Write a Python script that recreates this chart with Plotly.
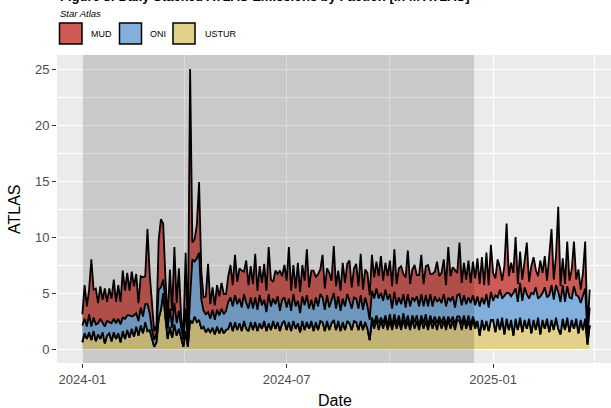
import pandas as pd
import plotly.graph_objects as go

# ---------------- data ----------------
start_date = "2024-01-01"
n_points = 227          # every 2nd day, 2024-01-01 .. 2025-03-28
dates = pd.date_range(start_date, periods=n_points, freq="2D")

factions = ["MUD", "ONI", "USTUR"]
colors = {"MUD": "#cd5b55", "ONI": "#82afdc", "USTUR": "#e1d18b", "other": "#7f7f7f"}

ustur = [
    0.6,1.4,0.9,1.5,0.8,1.6,0.7,1.3,0.9,1.5,0.5,1.2,1.4,0.7,1.5,0.9,
    1.4,0.6,1.6,0.9,1.7,1.0,1.8,1.1,2.0,1.2,2.1,1.4,2.4,1.6,
    1.7,0.8,0.2,0.6,2.7,3.5,5.0,2.8,0.9,2.0,1.0,2.2,1.2,1.8,1.0,0.2,
    1.6,0.2,2.6,2.3,2.9,2.4,2.6,1.8,2.0,1.5,1.8,1.5,1.9,1.3,2.0,
    1.4,1.9,1.4,1.7,1.8,2.4,1.6,2.4,1.7,2.3,1.6,2.5,1.8,1.6,2.4,
    1.7,2.4,1.6,2.3,1.8,2.5,1.6,2.3,1.7,2.5,1.8,2.4,1.6,2.3,2.5,
    1.7,2.4,1.6,2.5,1.8,2.3,1.5,2.5,1.7,2.4,1.8,2.5,1.6,2.4,1.7,2.5,
    2.4,1.6,2.5,1.7,2.3,2.6,1.7,2.5,1.6,2.4,1.7,2.5,2.3,1.7,2.5,
    2.4,1.7,2.5,1.7,2.4,1.8,0.8,2.5,1.8,2.6,1.7,2.5,1.8,2.6,1.7,
    2.5,1.7,2.6,1.8,2.5,1.7,2.6,1.8,2.5,1.7,2.6,1.8,2.5,1.7,2.6,1.8,
    2.5,1.7,2.6,1.8,2.5,1.7,2.6,1.8,2.5,1.7,2.6,1.8,2.5,1.7,2.6,
    2.5,1.7,2.6,1.8,2.5,1.7,2.6,1.8,2.5,1.2,2.6,1.7,2.5,1.6,2.6,
    2.6,1.5,2.7,1.7,2.8,1.3,2.7,1.7,2.6,1.2,2.7,1.7,2.8,1.5,2.6,1.8,
    2.7,1.4,2.6,1.7,2.8,1.3,2.6,1.8,2.7,1.5,2.6,1.7,2.8,1.8,
    1.3,2.7,1.7,2.8,1.5,2.6,1.8,2.7,1.4,2.6,1.7,2.7,0.4,2.1,
]

oni = [
    1.5,1.3,1.1,1.6,1.2,1.2,1.5,1.0,1.8,0.9,1.5,1.3,1.0,1.6,1.2,1.4,
    1.3,1.6,1.2,1.8,1.3,2.0,1.1,1.9,1.2,1.3,1.6,1.5,1.6,2.4,
    1.5,0.9,0.6,0.8,2.6,2.0,1.2,1.6,0.9,1.6,0.9,1.9,1.1,1.6,0.9,0.6,
    2.0,0.5,2.0,5.7,4.9,5.7,6.0,2.6,1.4,1.6,1.5,1.2,1.6,1.3,1.5,
    1.6,1.7,1.7,1.7,2.4,2.2,2.2,2.4,2.3,2.2,2.1,2.4,2.3,2.0,2.2,
    1.9,2.2,1.9,2.5,2.1,1.9,1.7,2.6,2.1,2.0,2.2,2.3,1.8,2.1,2.1,
    2.0,2.1,1.8,2.4,2.0,2.0,1.7,2.2,2.2,2.4,1.8,1.9,1.9,2.2,2.1,2.4,
    2.2,1.9,2.3,2.0,2.1,2.4,1.9,2.2,1.8,2.1,2.1,2.4,2.0,1.9,2.1,
    2.1,1.9,2.3,1.8,2.2,2.0,1.8,2.4,2.2,2.4,2.2,2.2,2.0,2.3,2.3,
    1.8,1.6,2.0,1.7,1.6,2.0,1.7,1.5,1.9,1.8,1.6,1.9,1.7,1.8,1.9,1.5,
    1.7,1.8,1.9,1.5,1.8,1.9,1.6,1.8,2.0,1.6,1.7,1.9,1.8,1.5,1.9,
    2.0,1.7,1.8,1.9,1.6,2.0,1.9,1.7,2.2,2.6,2.0,2.3,2.4,2.1,2.5,
    1.7,3.3,1.9,3.6,1.7,3.5,2.3,3.3,2.1,3.8,2.7,2.5,3.1,2.8,2.9,3.1,
    1.8,3.6,2.3,3.8,1.7,3.4,2.4,3.7,1.9,3.3,3.1,2.7,2.9,3.3,
    2.9,3.0,2.5,2.8,3.1,1.9,3.8,2.1,3.3,1.5,3.1,2.7,0.8,1.6,
]

mud = [
    1.0,3.0,1.8,2.2,6.0,2.5,3.2,1.8,2.9,2.0,3.4,1.7,3.0,2.2,3.5,1.9,
    3.0,2.0,4.2,2.5,3.8,2.2,4.0,2.6,3.5,1.6,2.8,3.5,2.5,6.7,
    3.5,2.2,0.8,0.7,4.5,6.1,5.0,2.0,0.8,3.5,1.5,5.0,1.8,3.8,1.0,0.4,
    5.0,0.6,20.4,1.5,2.0,3.0,6.3,2.5,1.2,1.6,4.3,1.3,2.0,1.3,2.2,
    1.7,2.3,1.8,1.5,2.3,2.9,1.9,3.6,2.0,2.7,3.3,2.0,3.8,2.1,2.8,
    2.2,3.9,1.7,2.6,2.0,3.2,1.9,4.2,2.4,1.5,3.0,2.0,3.6,2.1,2.9,
    2.4,4.6,1.8,2.6,1.6,3.4,1.9,2.8,2.2,4.1,1.9,2.6,3.5,1.8,2.9,2.2,
    3.8,1.9,2.4,3.1,1.7,4.2,2.0,2.3,1.8,3.2,2.1,2.7,3.6,1.9,2.6,
    3.1,2.0,3.7,1.8,2.5,3.0,2.2,3.2,1.9,2.4,2.0,3.3,1.8,2.4,2.1,
    3.0,2.0,3.8,1.9,2.6,3.4,1.8,2.7,3.9,2.0,2.5,3.2,1.9,2.8,3.5,2.0,
    2.6,3.7,1.8,2.9,2.2,3.6,2.0,2.7,3.1,1.9,4.5,2.2,2.6,3.3,2.0,
    4.6,2.0,2.9,2.2,3.3,1.8,3.0,2.4,3.4,2.0,3.6,1.7,3.7,2.0,4.2,
    2.5,1.5,3.4,2.0,1.6,2.6,6.2,1.5,3.0,1.8,4.6,1.6,2.8,1.9,2.2,4.6,
    1.5,2.4,3.3,1.6,2.0,3.2,1.8,2.8,1.5,3.5,5.0,1.8,2.6,7.6,
    1.4,2.4,1.6,4.0,1.5,2.6,4.0,1.4,2.4,1.2,2.0,4.2,0.6,1.6,
]

# small unlabelled (grey) layer between USTUR and ONI, autumn 2024
other_start = 129
other_vals = [
    0.3,0.5,0.4,0.6,0.3,0.5,0.4,0.4,0.6,0.3,0.5,0.4,0.5,0.3,0.6,0.4,
    0.5,0.3,0.4,0.6,0.5,0.3,0.4,0.5,0.6,0.3,0.4,0.5,0.4,0.6,0.3,0.5,
    0.4,0.5,0.3,0.6,0.4,0.5,0.3,0.4,0.5,0.4,0.3,0.5,0.4,0.3,0.4,
]
other = [0.0] * other_start + other_vals
other = other + [0.0] * (n_points - len(other))

shade_start = "2024-01-01"
shade_end = "2024-12-15"

y_ticks = [0, 5, 10, 15, 20, 25]
x_range = ["2023-12-09 09:36", "2025-04-16 00:00"]
y_range = [-1.25, 26.25]

title_text = "Figure 8: Daily Stacked ATLAS Emissions by Faction [in M ATLAS]"
subtitle_text = "Star Atlas"

# ---------------- figure ----------------
W, H = 611, 408
ML, MR, MT, MB = 57, 0, 55, 45
PW, PH = W - ML - MR, H - MT - MB


def px(x):
    return (x - ML) / PW


def py(y):
    return 1 + (MT - y) / PH


fig = go.Figure()
layers = [("USTUR", ustur), ("other", other), ("ONI", oni), ("MUD", mud)]
for name, vals in layers:
    fig.add_trace(go.Scatter(
        x=dates, y=vals, name=name, mode="lines", stackgroup="one",
        line=dict(color="black", width=1.8, shape="linear"),
        fillcolor=colors[name], showlegend=False,
    ))

shapes = [dict(type="rect", xref="x", yref="paper", x0=shade_start, x1=shade_end,
               y0=0, y1=1, fillcolor="rgba(0,0,0,0.14)", line=dict(width=0), layer="above")]

annotations = [
    dict(text="<b>" + title_text + "</b>", x=px(58), y=py(-4), xref="paper", yref="paper",
         xanchor="left", yanchor="middle", showarrow=False,
         font=dict(family="Liberation Sans, Arial", size=13, color="black")),
    dict(text="<i>" + subtitle_text + "</i>", x=px(57.5), y=py(14), xref="paper", yref="paper",
         xanchor="left", yanchor="middle", showarrow=False,
         font=dict(family="Liberation Sans, Arial", size=9.5, color="black")),
    dict(text="ATLAS", x=px(14), y=py(209), xref="paper", yref="paper", textangle=-90,
         xanchor="center", yanchor="middle", showarrow=False,
         font=dict(family="Liberation Sans, Arial", size=16, color="black")),
    dict(text="Date", x=px(335), y=py(400), xref="paper", yref="paper",
         xanchor="center", yanchor="middle", showarrow=False,
         font=dict(family="Liberation Sans, Arial", size=16, color="black")),
]

legend_boxes = {"MUD": (59.5, 82), "ONI": (119.5, 141.5), "USTUR": (173, 195)}
legend_text_x = {"MUD": 89, "ONI": 148, "USTUR": 203}
for f in factions:
    x0, x1 = legend_boxes[f]
    shapes.append(dict(type="rect", xref="paper", yref="paper",
                       x0=px(x0), x1=px(x1), y0=py(44), y1=py(23),
                       fillcolor=colors[f], line=dict(color="black", width=1.5), layer="above"))
    annotations.append(dict(text=f, x=px(legend_text_x[f]), y=py(34), xref="paper", yref="paper",
                            xanchor="left", yanchor="middle", showarrow=False,
                            font=dict(family="Liberation Sans, Arial", size=9, color="black")))

fig.update_layout(
    width=W, height=H,
    margin=dict(l=ML, r=MR, t=MT, b=MB, pad=0),
    paper_bgcolor="white", plot_bgcolor="#ebebeb",
    showlegend=False,
    shapes=shapes, annotations=annotations,
    font=dict(family="Liberation Sans, Arial", color="#4d4d4d"),
)

fig.update_xaxes(
    type="date", range=x_range, tickformat="%Y-%m", dtick="M6", tick0="2024-01-01",
    showgrid=True, gridcolor="white", gridwidth=1.1,
    minor=dict(dtick="M3", tick0="2024-01-01", showgrid=True, gridcolor="white", gridwidth=0.5),
    ticks="outside", ticklen=4, tickcolor="#333333", tickwidth=1,
    tickfont=dict(size=13, color="#4d4d4d"), zeroline=False, showline=False,
)
fig.update_yaxes(
    range=y_range, tickvals=y_ticks,
    showgrid=True, gridcolor="white", gridwidth=1.1,
    minor=dict(dtick=2.5, tick0=0, showgrid=True, gridcolor="white", gridwidth=0.5),
    ticks="outside", ticklen=4, tickcolor="#333333", tickwidth=1,
    tickfont=dict(size=13, color="#4d4d4d"), zeroline=False, showline=False,
)

fig.write_html("out.html")
